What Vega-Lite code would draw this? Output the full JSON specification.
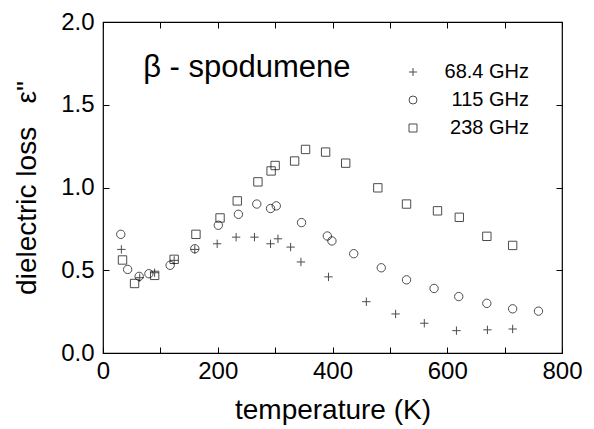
{
  "$schema": "https://vega.github.io/schema/vega-lite/v6.json",
  "autosize": {"type": "none"},
  "width": 459,
  "height": 331,
  "padding": {"left": 103, "top": 22, "right": 32, "bottom": 76},
  "background": "white",
  "config": {
    "font": "Liberation Sans",
    "view": {"stroke": "black", "strokeWidth": 1.2},
    "axis": {"grid": false, "domainColor": "black", "tickColor": "black", "tickWidth": 1, "labelColor": "black", "titleColor": "black", "labelFont": "Liberation Sans", "titleFont": "Liberation Sans", "titleFontWeight": "normal"}
  },
  "datasets": {
    "pts": [
      {"T": 32, "e": 0.626, "f": "68.4 GHz"}, {"T": 64, "e": 0.455, "f": "68.4 GHz"}, {"T": 90, "e": 0.485, "f": "68.4 GHz"},
      {"T": 124, "e": 0.56, "f": "68.4 GHz"}, {"T": 160, "e": 0.626, "f": "68.4 GHz"}, {"T": 199, "e": 0.66, "f": "68.4 GHz"},
      {"T": 232, "e": 0.70, "f": "68.4 GHz"}, {"T": 264, "e": 0.70, "f": "68.4 GHz"}, {"T": 292, "e": 0.66, "f": "68.4 GHz"},
      {"T": 305, "e": 0.69, "f": "68.4 GHz"}, {"T": 327, "e": 0.64, "f": "68.4 GHz"}, {"T": 345, "e": 0.55, "f": "68.4 GHz"},
      {"T": 393, "e": 0.46, "f": "68.4 GHz"}, {"T": 459, "e": 0.31, "f": "68.4 GHz"}, {"T": 510, "e": 0.236, "f": "68.4 GHz"},
      {"T": 560, "e": 0.18, "f": "68.4 GHz"}, {"T": 616, "e": 0.135, "f": "68.4 GHz"}, {"T": 670, "e": 0.14, "f": "68.4 GHz"},
      {"T": 714, "e": 0.145, "f": "68.4 GHz"},
      {"T": 31, "e": 0.717, "f": "115 GHz"}, {"T": 43, "e": 0.505, "f": "115 GHz"}, {"T": 63, "e": 0.463, "f": "115 GHz"},
      {"T": 80, "e": 0.479, "f": "115 GHz"}, {"T": 117, "e": 0.53, "f": "115 GHz"}, {"T": 160, "e": 0.63, "f": "115 GHz"},
      {"T": 201, "e": 0.772, "f": "115 GHz"}, {"T": 236, "e": 0.838, "f": "115 GHz"}, {"T": 268, "e": 0.90, "f": "115 GHz"},
      {"T": 292, "e": 0.873, "f": "115 GHz"}, {"T": 302, "e": 0.889, "f": "115 GHz"}, {"T": 346, "e": 0.788, "f": "115 GHz"},
      {"T": 391, "e": 0.707, "f": "115 GHz"}, {"T": 399, "e": 0.677, "f": "115 GHz"}, {"T": 437, "e": 0.60, "f": "115 GHz"},
      {"T": 485, "e": 0.515, "f": "115 GHz"}, {"T": 529, "e": 0.442, "f": "115 GHz"}, {"T": 577, "e": 0.39, "f": "115 GHz"},
      {"T": 620, "e": 0.341, "f": "115 GHz"}, {"T": 669, "e": 0.30, "f": "115 GHz"}, {"T": 714, "e": 0.267, "f": "115 GHz"},
      {"T": 759, "e": 0.253, "f": "115 GHz"},
      {"T": 34, "e": 0.562, "f": "238 GHz"}, {"T": 55, "e": 0.42, "f": "238 GHz"}, {"T": 90, "e": 0.469, "f": "238 GHz"},
      {"T": 124, "e": 0.566, "f": "238 GHz"}, {"T": 162, "e": 0.717, "f": "238 GHz"}, {"T": 204, "e": 0.816, "f": "238 GHz"},
      {"T": 234, "e": 0.919, "f": "238 GHz"}, {"T": 270, "e": 1.034, "f": "238 GHz"}, {"T": 293, "e": 1.10, "f": "238 GHz"},
      {"T": 300, "e": 1.133, "f": "238 GHz"}, {"T": 334, "e": 1.16, "f": "238 GHz"}, {"T": 353, "e": 1.23, "f": "238 GHz"},
      {"T": 388, "e": 1.214, "f": "238 GHz"}, {"T": 423, "e": 1.147, "f": "238 GHz"}, {"T": 479, "e": 0.998, "f": "238 GHz"},
      {"T": 529, "e": 0.90, "f": "238 GHz"}, {"T": 583, "e": 0.859, "f": "238 GHz"}, {"T": 621, "e": 0.82, "f": "238 GHz"},
      {"T": 669, "e": 0.705, "f": "238 GHz"}, {"T": 714, "e": 0.65, "f": "238 GHz"}
    ],
    "label": [{"T": 70, "e": 1.67, "txt": "β - spodumene"}]
  },
  "layer": [
    {
      "data": {"name": "pts"},
      "mark": {"type": "point", "filled": false, "color": "black", "strokeWidth": 1, "size": 70, "clip": false},
      "encoding": {
        "x": {"field": "T", "type": "quantitative", "scale": {"domain": [0, 800], "nice": false, "zero": false},
          "axis": {"orient": "bottom", "title": "temperature (K)", "values": [0, 100, 200, 300, 400, 500, 600, 700, 800], "labelExpr": "datum.value % 200 == 0 ? datum.label : ''", "offset": -6, "tickSize": 6, "labelFontSize": 24, "labelPadding": 6, "titleFontSize": 28, "titlePadding": 13, "domain": false, "labelFlush": false}},
        "y": {"field": "e", "type": "quantitative", "scale": {"domain": [0, 2], "nice": false, "zero": false},
          "axis": {"orient": "left", "title": "dielectric loss\u00a0\u00a0\u00a0ε\"", "values": [0, 0.5, 1, 1.5, 2], "format": ".1f", "offset": -6, "tickSize": 6, "labelFontSize": 24, "labelPadding": 9, "titleFontSize": 28, "titlePadding": 19, "domain": false, "labelFlush": false}},
        "shape": {"field": "f", "type": "nominal",
          "scale": {"domain": ["68.4 GHz", "115 GHz", "238 GHz"], "range": ["M-1,0L1,0M0,-1L0,1", "circle", "square"]},
          "legend": {"title": null, "orient": "none", "legendX": 300, "legendY": 40, "labelFontSize": 20, "labelAlign": "right", "labelOffset": 106, "rowPadding": 8, "symbolSize": 64, "symbolStrokeColor": "black", "symbolFillColor": "transparent", "symbolStrokeWidth": 1, "labelColor": "black", "labelFont": "Liberation Sans"}}
      }
    },
    {
      "data": {"name": "pts"},
      "mark": {"type": "point", "opacity": 0},
      "encoding": {
        "x": {"field": "T", "type": "quantitative", "axis": {"orient": "top", "title": null, "labels": false, "values": [0, 100, 200, 300, 400, 500, 600, 700, 800], "offset": -6, "tickSize": 6, "domain": false}},
        "y": {"field": "e", "type": "quantitative", "axis": {"orient": "right", "title": null, "labels": false, "values": [0, 0.5, 1, 1.5, 2], "offset": -6, "tickSize": 6, "domain": false}}
      }
    },
    {
      "data": {"name": "label"},
      "mark": {"type": "text", "align": "left", "baseline": "alphabetic", "fontSize": 31, "font": "Liberation Sans", "color": "black"},
      "encoding": {
        "x": {"field": "T", "type": "quantitative", "axis": null},
        "y": {"field": "e", "type": "quantitative", "axis": null},
        "text": {"field": "txt"}
      }
    }
  ],
  "resolve": {"axis": {"x": "independent", "y": "independent"}}
}
